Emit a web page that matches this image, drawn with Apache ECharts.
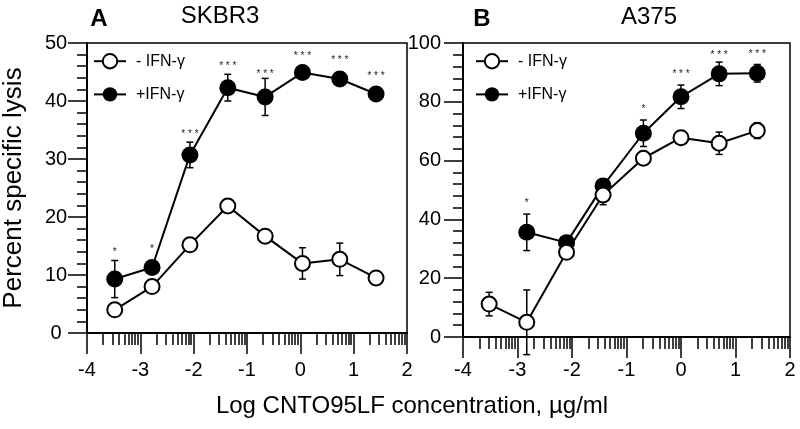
<!DOCTYPE html>
<html><head><meta charset="utf-8">
<script src="https://cdn.jsdelivr.net/npm/echarts@6/dist/echarts.min.js"></script>
<style>html,body{margin:0;padding:0;background:#fff}#c{width:800px;height:429px}</style>
</head><body><div id="c"></div>
<script>
// ---- data ----
const xTickLabels = [-4, -3, -2, -1, 0, 1, 2];
const doseA = [-3.48, -2.78, -2.07, -1.36, -0.66, 0.04, 0.74, 1.42];
const doseB = [-3.52, -2.83, -2.10, -1.43, -0.69, 0.00, 0.70, 1.40];
const lysisA_noIFN = [4.0, 8.0, 15.2, 21.9, 16.7, 12.0, 12.7, 9.5];
const errA_noIFN   = [null, null, null, null, null, 2.7, 2.8, null];
const lysisA_IFN   = [9.3, 11.3, 30.7, 42.3, 40.7, 44.9, 43.8, 41.2];
const errA_IFN     = [3.2, null, 2.2, 2.3, 3.2, null, null, null];
const lysisB_noIFN = [11.2, 5.0, 28.8, 48.3, 60.8, 67.8, 65.9, 70.2];
const errB_noIFN   = [4.0, 11.0, null, 3.3, null, null, 3.8, 2.7];
const lysisB_IFN   = [null, 35.6, 32.1, 51.4, 69.3, 81.7, 89.5, 89.7];
const errB_IFN     = [null, 6.2, null, null, 4.5, 4.0, 4.0, 3.0];
const starA  = ['*', '*', '***', '***', '***', '***', '***', '***'];
const starYA = [14.3, 14.9, 34.7, 46.4, 45.1, 48.1, 47.4, 44.7];
const starB  = [null, '*', null, null, '*', '***', '***', '***'];
const starYB = [null, 46.3, null, null, 78.2, 90.1, 96.6, 96.9];
const seriesNames = ['- IFN-γ', '+IFN-γ'];

// ---- helpers ----
const FONT = "'Liberation Sans', Arial, Helvetica, sans-serif";
const minorTickVals = [];
for (let d = -4; d < 2; d++) for (let k = 2; k <= 9; k++) minorTickVals.push(d + Math.log10(k));

function pairs(xs, ys) { return xs.map((x, i) => [x, ys[i]]); }

function errSeries(xIdx, yIdx, xs, ys, es) {
  const data = [];
  xs.forEach((x, i) => { if (es[i] != null && ys[i] != null) data.push([x, ys[i] - es[i], ys[i] + es[i]]); });
  return {
    type: 'custom', xAxisIndex: xIdx, yAxisIndex: yIdx, clip: false, z: 1, silent: true,
    encode: { x: 0, y: [1, 2] }, data,
    renderItem: (p, api) => {
      const lo = api.coord([api.value(0), api.value(1)]);
      const hi = api.coord([api.value(0), api.value(2)]);
      const w = 3.5, st = { stroke: '#000', lineWidth: 1.5 };
      return { type: 'group', children: [
        { type: 'line', shape: { x1: lo[0], y1: lo[1], x2: hi[0], y2: hi[1] }, style: st },
        { type: 'line', shape: { x1: lo[0] - w, y1: lo[1], x2: lo[0] + w, y2: lo[1] }, style: st },
        { type: 'line', shape: { x1: hi[0] - w, y1: hi[1], x2: hi[0] + w, y2: hi[1] }, style: st }
      ]};
    }
  };
}

function starSeries(xIdx, yIdx, xs, ys, labels) {
  const data = [], txt = [];
  xs.forEach((x, i) => { if (labels[i] != null) { data.push([x, ys[i]]); txt.push(labels[i].split('').join(' ')); } });
  return {
    type: 'custom', xAxisIndex: xIdx, yAxisIndex: yIdx, clip: false, z: 5, silent: true,
    encode: { x: 0, y: 1 }, data,
    renderItem: (p, api) => {
      const pt = api.coord([api.value(0), api.value(1)]);
      return { type: 'text', x: pt[0], y: pt[1] + 2.5,
        style: { text: txt[p.dataIndex], fill: '#222', font: '10px ' + FONT,
                 textAlign: 'center', align: 'center', textVerticalAlign: 'middle', verticalAlign: 'middle' } };
    }
  };
}

function lineSeries(name, xIdx, yIdx, xs, ys, open) {
  return {
    name, type: 'line', xAxisIndex: xIdx, yAxisIndex: yIdx, data: pairs(xs, ys),
    symbol: 'circle', symbolSize: open ? 15 : 17, showAllSymbol: true, z: open ? 3 : 2,
    lineStyle: { color: '#000', width: 2 },
    itemStyle: open ? { color: '#fff', borderColor: '#000', borderWidth: 2 } : { color: '#000', borderColor: '#000', borderWidth: 0 },
    emphasis: { disabled: true }
  };
}

function mainX(gridIndex, margin) {
  return {
    type: 'value', gridIndex, min: -4, max: 2, interval: 1, position: 'bottom',
    axisLine: { show: true, onZero: false, lineStyle: { color: '#000', width: 2 } },
    axisTick: { show: true, length: 21, lineStyle: { color: '#000', width: 1.5 } },
    axisLabel: { fontSize: 20, color: '#000', fontFamily: FONT, margin,
                 formatter: v => (xTickLabels.indexOf(v) >= 0 ? String(v) : '') },
    splitLine: { show: false }
  };
}
function minorX(gridIndex) {
  return {
    type: 'value', gridIndex, min: -4, max: 2, position: 'bottom', offset: 0,
    axisLine: { show: false, onZero: false },
    axisTick: { show: true, length: 12, customValues: minorTickVals, lineStyle: { color: '#000', width: 1.5 } },
    axisLabel: { show: false }, splitLine: { show: false }
  };
}

const option = {
  animation: false,
  backgroundColor: '#fff',
  textStyle: { fontFamily: FONT },
  grid: [
    { left: 82, top: 43, width: 325, height: 290, show: true, borderColor: '#000', borderWidth: 1.5 },
    { left: 463, top: 43, width: 327, height: 294, show: true, borderColor: '#000', borderWidth: 1.5 }
  ],
  xAxis: [mainX(0, 27), minorX(0), mainX(1, 23), minorX(1)],
  yAxis: [
    { type: 'value', gridIndex: 0, min: 0, max: 50, interval: 10, position: 'left',
      name: 'Percent specific lysis', nameLocation: 'middle', nameRotate: 90, nameGap: 60,
      nameTextStyle: { fontSize: 26, color: '#000', fontFamily: FONT },
      axisLine: { show: true, onZero: false, lineStyle: { color: '#000', width: 2 } },
      axisTick: { show: true, length: 19, lineStyle: { color: '#000', width: 1.5 } },
      minorTick: { show: true, splitNumber: 5, length: 10, lineStyle: { color: '#000', width: 1.5 } },
      axisLabel: { fontSize: 20, color: '#000', fontFamily: FONT, margin: 31, align: 'center' },
      splitLine: { show: false }, minorSplitLine: { show: false } },
    { type: 'value', gridIndex: 1, min: 0, max: 100, interval: 20, position: 'left',
      axisLine: { show: true, onZero: false, lineStyle: { color: '#000', width: 2 } },
      axisTick: { show: true, length: 19, lineStyle: { color: '#000', width: 1.5 } },
      minorTick: { show: true, splitNumber: 5, length: 10, lineStyle: { color: '#000', width: 1.5 } },
      axisLabel: { fontSize: 20, color: '#000', fontFamily: FONT, margin: 22 },
      splitLine: { show: false }, minorSplitLine: { show: false } }
  ],
  legend: [
    { data: seriesNames, left: 93, top: 53, orient: 'vertical', itemWidth: 32, itemHeight: 18, itemGap: 17,
      padding: 0, selectedMode: false, textStyle: { fontSize: 16, color: '#000', fontFamily: FONT, padding: [0, 0, 0, 5] } },
    { data: seriesNames, left: 475, top: 53, orient: 'vertical', itemWidth: 32, itemHeight: 18, itemGap: 17,
      padding: 0, selectedMode: false, textStyle: { fontSize: 16, color: '#000', fontFamily: FONT, padding: [0, 0, 0, 5] } }
  ],
  graphic: [
    { type: 'text', x: 99, y: 19, style: { text: 'A', font: 'bold 24px ' + FONT, fill: '#000', textAlign: 'center', align: 'center', textVerticalAlign: 'middle', verticalAlign: 'middle' } },
    { type: 'text', x: 220, y: 16, style: { text: 'SKBR3', font: '24px ' + FONT, fill: '#000', textAlign: 'center', align: 'center', textVerticalAlign: 'middle', verticalAlign: 'middle' } },
    { type: 'text', x: 482, y: 19, style: { text: 'B', font: 'bold 24px ' + FONT, fill: '#000', textAlign: 'center', align: 'center', textVerticalAlign: 'middle', verticalAlign: 'middle' } },
    { type: 'text', x: 649, y: 17, style: { text: 'A375', font: '24px ' + FONT, fill: '#000', textAlign: 'center', align: 'center', textVerticalAlign: 'middle', verticalAlign: 'middle' } },
    { type: 'text', x: 412, y: 406, style: { text: 'Log CNTO95LF concentration, µg/ml', font: '24px ' + FONT, fill: '#000', textAlign: 'center', align: 'center', textVerticalAlign: 'middle', verticalAlign: 'middle' } }
  ],
  series: [
    errSeries(0, 0, doseA, lysisA_IFN, errA_IFN),
    errSeries(0, 0, doseA, lysisA_noIFN, errA_noIFN),
    errSeries(2, 1, doseB, lysisB_IFN, errB_IFN),
    errSeries(2, 1, doseB, lysisB_noIFN, errB_noIFN),
    lineSeries(seriesNames[1], 0, 0, doseA, lysisA_IFN, false),
    lineSeries(seriesNames[0], 0, 0, doseA, lysisA_noIFN, true),
    lineSeries(seriesNames[1], 2, 1, doseB, lysisB_IFN, false),
    lineSeries(seriesNames[0], 2, 1, doseB, lysisB_noIFN, true),
    starSeries(0, 0, doseA, starYA, starA),
    starSeries(2, 1, doseB, starYB, starB)
  ]
};
const chart = echarts.init(document.getElementById('c'), null, { renderer: 'canvas' });
chart.setOption(option);
</script>
</body></html>
